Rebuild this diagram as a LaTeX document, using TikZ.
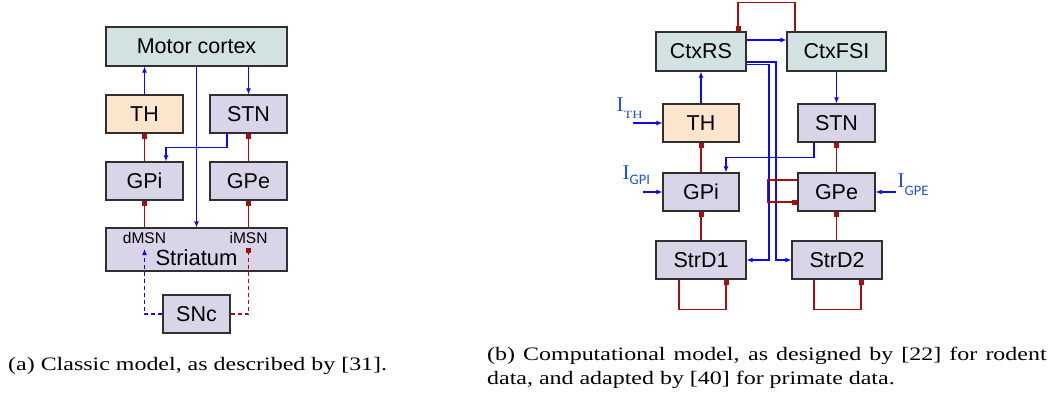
\documentclass[tikz,border=0pt]{standalone}
\usepackage{graphicx}
\usepackage{fontspec}
\setmainfont{Liberation Serif}
\newfontfamily\arialf{Liberation Sans}
\newfontfamily\calib{Carlito}
\usetikzlibrary{arrows.meta}
\definecolor{ctxc}{HTML}{D2E1E2}
\definecolor{thc}{HTML}{FCE5CD}
\definecolor{bgc}{HTML}{DAD4E8}
\definecolor{edgec}{HTML}{303030}
\definecolor{inhc}{HTML}{A50F0F}
\definecolor{exc}{HTML}{0A0AF5}
\definecolor{lblc}{HTML}{1E50E6}
\begin{document}
\begin{tikzpicture}[x=1pt,y=-1pt,
  box/.style={draw=edgec,line width=1.2pt,inner sep=0pt,font=\arialf\fontsize{21.5}{24}\selectfont},
  exa/.style={draw=exc,line width=1.1pt,-{Latex[length=6pt,width=5pt]}},
  inh/.style={draw=inhc,line width=1.1pt,-{Square[length=5pt,width=5pt]}},
  dsh/.style={dash pattern=on 4pt off 3pt},
  lbl/.style={text=lblc,inner sep=0pt,anchor=base west},
  captxt/.style={inner sep=0pt,anchor=base west,font=\fontsize{19}{22}\selectfont}]
\useasboundingbox[fill=white] (0,0) rectangle (1057,393);

% ---------- (a) classic model ----------
\node[box,fill=ctxc,minimum width=181pt,minimum height=39pt] (mc) at (196.5,46.5) {Motor cortex};
\node[box,fill=thc,minimum width=77pt,minimum height=38pt] (th) at (144.5,114) {TH};
\node[box,fill=bgc,minimum width=77pt,minimum height=38pt] (stn) at (248.5,114) {STN};
\node[box,fill=bgc,minimum width=77pt,minimum height=38pt] (gpi) at (144.5,181) {GPi};
\node[box,fill=bgc,minimum width=77pt,minimum height=38pt] (gpe) at (248.5,181) {GPe};
\node[box,fill=bgc,minimum width=181pt,minimum height=43pt] (str) at (196.5,249.5) {};
\node[inner sep=0pt,anchor=base,font=\arialf\fontsize{15.5}{16}\selectfont] (dmsn) at (144.5,243) {dMSN};
\node[inner sep=0pt,anchor=base,font=\arialf\fontsize{15.5}{16}\selectfont] (imsn) at (248.5,243) {iMSN};
\node[inner sep=0pt,anchor=base,font=\arialf\fontsize{22}{24}\selectfont] (strl) at (196.5,265) {Striatum};
\node[box,fill=bgc,minimum width=67pt,minimum height=38pt] (snc) at (196.5,314) {SNc};
\coordinate (dm) at (144.5,249);
\coordinate (im) at (248.5,248);

\draw[exa] (th.north) -- (th.north |- mc.south);
\draw[exa] (stn.north |- mc.south) -- (stn.north);
\draw[exa] (mc.south) -- (str.north);
\draw[exa] ([xshift=-21.5pt]stn.south) -- ++(0,14) -| ([xshift=21.5pt]gpi.north);
\draw[inh] (gpi.north) -- (th.south);
\draw[inh] (gpe.north) -- (stn.south);
\draw[inh] (str.north -| gpi.south) -- (gpi.south);
\draw[inh] (str.north -| gpe.south) -- (gpe.south);
\draw[exa,dsh] (snc.west) -| (dm);
\draw[inh,dsh] (snc.east) -| (im);

% ---------- (b) computational model ----------
\node[box,fill=ctxc,minimum width=90pt,minimum height=39pt] (ctxrs) at (701,51.5) {CtxRS};
\node[box,fill=ctxc,minimum width=99pt,minimum height=39pt] (ctxfsi) at (836.5,51.5) {CtxFSI};
\node[box,fill=thc,minimum width=76pt,minimum height=38pt] (th2) at (701,123) {TH};
\node[box,fill=bgc,minimum width=77pt,minimum height=38pt] (stn2) at (836.5,123) {STN};
\node[box,fill=bgc,minimum width=76pt,minimum height=38pt] (gpi2) at (701,192) {GPi};
\node[box,fill=bgc,minimum width=77pt,minimum height=38pt] (gpe2) at (836.5,192) {GPe};
\node[box,fill=bgc,minimum width=90pt,minimum height=38pt] (strd1) at (701,260) {StrD1};
\node[box,fill=bgc,minimum width=90pt,minimum height=38pt] (strd2) at (837,260) {StrD2};

\node[lbl] (ith) at (616.5,112) {\fontsize{21}{21}\selectfont I\raisebox{-7pt}{\fontsize{11}{11}\selectfont\scalebox{1.3}[1]{TH}}};
\node[lbl] (igpi) at (622.5,179) {\fontsize{21}{21}\selectfont I\raisebox{-5.5pt}{\calib\fontsize{14.5}{14.5}\selectfont GPI}};
\node[lbl] (igpe) at (897.5,187) {\fontsize{21}{21}\selectfont I\raisebox{-8pt}{\calib\fontsize{14.5}{14.5}\selectfont GPE}};
\coordinate (ithc) at (633,123);
\coordinate (igpic) at (643,192);
\coordinate (igpec) at (896,192);

\draw[exa] (ithc) -- (th2.west);
\draw[exa] (igpic) -- (gpi2.west);
\draw[exa] (igpec) -- (gpe2.east);

\draw[inh] ([xshift=-41.5pt]ctxfsi.north) -- ++(0,-29) -| ([xshift=37pt]ctxrs.north);
\draw[exa] ([yshift=11.5pt]ctxrs.east) -- ([yshift=11.5pt]ctxfsi.west);
\draw[exa] (th2.north) -- (ctxrs.south);
\draw[exa] (ctxfsi.south) -- (stn2.north);
\draw[exa] ([yshift=-10.5pt]ctxrs.east) -| (776,260) -- (strd2.west);
\draw[exa] ([yshift=-13pt]ctxrs.east) -| (769,260) -- (strd1.east);
\draw[exa] ([xshift=-22.5pt]stn2.south) -- ++(0,15) -| ([xshift=25pt]gpi2.north);
\draw[inh] (gpi2.north) -- (th2.south);
\draw[inh] (gpe2.north) -- (stn2.south);
\draw[inh] ([yshift=12pt]gpe2.west) -- ++(-30,0) |- ([yshift=-10pt]gpe2.west);
\draw[inh] (strd1.north) -- (gpi2.south);
\draw[inh] (strd2.north -| gpe2.south) -- (gpe2.south);
\draw[inh] ([xshift=-22pt]strd1.south) -- ++(0,30) -| ([xshift=25pt]strd1.south);
\draw[inh] ([xshift=-23pt]strd2.south) -- ++(0,30) -| ([xshift=24pt]strd2.south);

% ---------- captions ----------
\node[captxt] (capa) at (8,370) {\scalebox{1.26}[1]{(a) Classic model, as described by [31].}};
\node[captxt] (capb1) at (487,360) {\scalebox{1.26}[1]{\makebox[444pt][s]{(b) Computational model, as designed by [22] for rodent}}};
\node[captxt] (capb2) at (487,384) {\scalebox{1.26}[1]{data, and adapted by [40] for primate data.}};
\end{tikzpicture}
\end{document}
